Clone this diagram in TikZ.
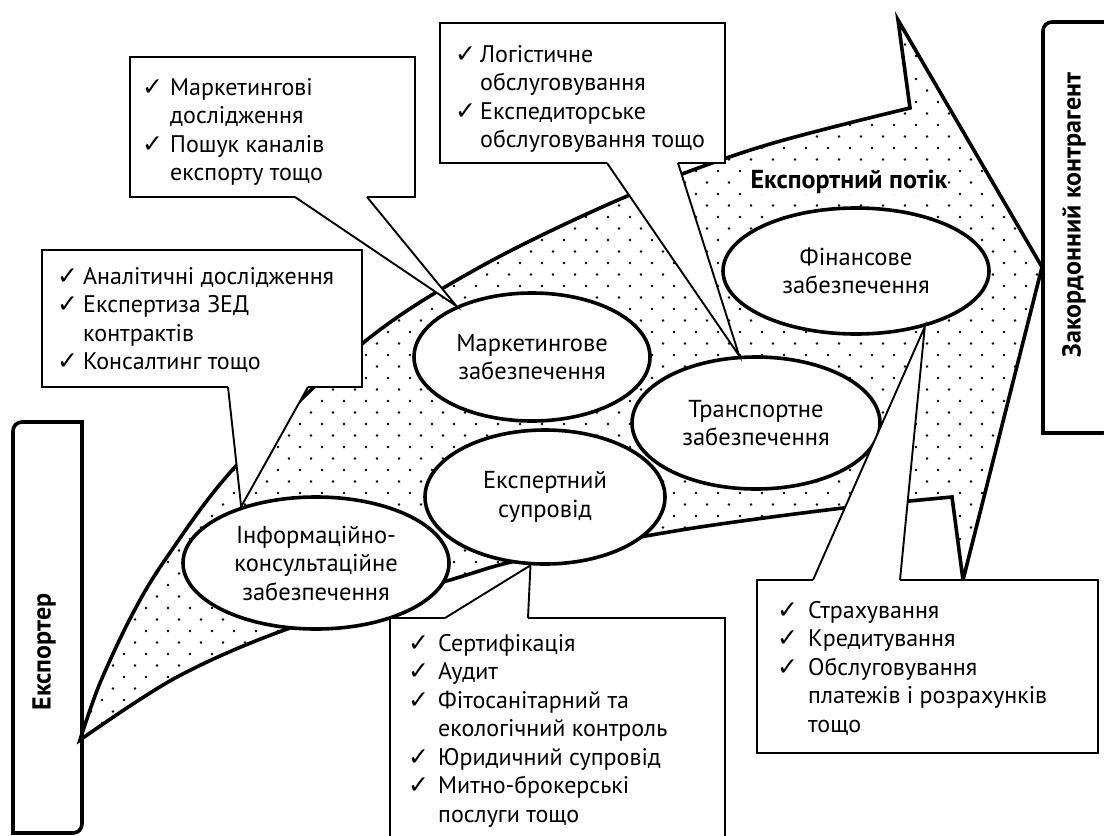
\documentclass[tikz,border=0pt]{standalone}
\usepackage{fontspec}
\setmainfont{PT Sans}
\newfontfamily\symf{DejaVu Sans}
\usetikzlibrary{shapes.geometric}
\newcommand{\ck}{{\fontsize{25}{25}\selectfont\symf ✓}}
\tikzset{
  flowline/.style={line width=3.6pt, line join=miter},
  oval/.style={ellipse, draw, line width=3.6pt, fill=white, inner sep=0pt, align=center,
    font=\fontsize{24.5}{28.5}\selectfont},
  cbox/.style={line width=2.6pt, line join=miter},
  cptr/.style={line width=1.9pt},
  listtxt/.style={anchor=north west, inner sep=0pt, font=\fontsize{24}{28.5}\selectfont},
  sidebox/.style={line width=3.6pt},
  sidetxt/.style={rotate=90, font=\fontsize{26}{30}\selectfont\bfseries},
}
\begin{document}
\begin{tikzpicture}[x=1pt,y=-1pt]
\useasboundingbox (0,0) rectangle (1104,836);
\clip (0,0) rectangle (1104,836);

% ---- export flow arrow: dots ----
\begin{scope}
\clip plot[smooth,tension=0.55] coordinates {(80,740) (100,683) (133,613) (167,557) (235,467) (363,343) (480,267) (625,197) (760,147) (910,108)}
  -- (898,20) -- (1042,267) -- (963,580) -- (952,497)
  -- plot[smooth,tension=0.55] coordinates {(952,497) (843,508) (700,527) (580,548) (507,563) (450,580) (290,628) (177,677) (80,740)} -- cycle;
\foreach \r in {0,...,64} {
  \foreach \c in {0,...,44} {
    \fill ({80+\c*22+mod(\r,2)*11},{10+\r*11.5}) circle (1.35pt);
  }
}
\end{scope}
% ---- export flow arrow: outline ----
\draw[flowline] plot[smooth,tension=0.55] coordinates {(80,740) (100,683) (133,613) (167,557) (235,467) (363,343) (480,267) (625,197) (760,147) (910,108)}
  -- (898,20) -- (1042,267) -- (963,580) -- (952,497)
  -- plot[smooth,tension=0.55] coordinates {(952,497) (843,508) (700,527) (580,548) (507,563) (450,580) (290,628) (177,677) (80,740)} -- cycle;

\node[inner sep=1pt, fill=white, font=\fontsize{26}{30}\selectfont\bfseries] (flow) at (849,182) {Експортний потік};

% ---- ellipses ----
\node[oval, minimum width=266, minimum height=132] (info) at (316,563) {Інформаційно-\\консультаційне\\забезпечення};
\node[oval, minimum width=236, minimum height=128] (mkt) at (532,357) {Маркетингове\\забезпечення};
\node[oval, minimum width=240, minimum height=134] (exp) at (545,497) {Експертний\\супровід};
\node[oval, minimum width=248, minimum height=132] (trn) at (756,423) {Транспортне\\забезпечення};
\node[oval, minimum width=266, minimum height=126] (fin) at (856,271) {Фінансове\\забезпечення};

% ---- callout: info ----
\fill[white] (42,250) -- (362,250) -- (362,387) -- (308,387) -- (info.143) -- (228,387) -- (42,387) -- cycle;
\draw[cbox] (228,387) -- (42,387) -- (42,250) -- (362,250) -- (362,387) -- (308,387);
\draw[cptr] (228,387) -- (info.143) -- (308,387);
\node[listtxt] (tinfo) at (57,264) {\begin{tabular}{@{}p{26pt}@{}l@{}}
\ck & Аналітичні дослідження\\
\ck & Експертиза ЗЕД\\
    & контрактів\\
\ck & Консалтинг тощо
\end{tabular}};

% ---- callout: marketing ----
\fill[white] (130,57) -- (415,57) -- (415,197) -- (367,197) -- (mkt.146) -- (295,197) -- (130,197) -- cycle;
\draw[cbox] (295,197) -- (130,197) -- (130,57) -- (415,57) -- (415,197) -- (367,197);
\draw[cptr] (295,197) -- (mkt.146) -- (367,197);
\node[listtxt] (tmkt) at (142,75) {\begin{tabular}{@{}p{28pt}@{}l@{}}
\ck & Маркетингові\\
    & дослідження\\
\ck & Пошук каналів\\
    & експорту тощо
\end{tabular}};

% ---- callout: logistics ----
\fill[white] (440,23) -- (725,23) -- (725,163) -- (678,163) -- (trn.104) -- (607,163) -- (440,163) -- cycle;
\draw[cbox] (607,163) -- (440,163) -- (440,23) -- (725,23) -- (725,163) -- (678,163);
\draw[cptr] (607,163) -- (trn.104) -- (678,163);
\node[listtxt] (ttrn) at (455,42) {\begin{tabular}{@{}p{25pt}@{}l@{}}
\ck & Логістичне\\
    & обслуговування\\
\ck & Експедиторське\\
    & обслуговування тощо
\end{tabular}};

% ---- callout: expert ----
\fill[white] (390,850) -- (390,618) -- (445,618) -- (exp.258) -- (528,618) -- (725,618) -- (725,850) -- cycle;
\draw[cbox] (390,850) -- (390,618) -- (445,618);
\draw[cbox] (528,618) -- (725,618) -- (725,850);
\draw[cptr] (445,618) -- (exp.258) -- (528,618);
\node[listtxt] (texp) at (408,631) {\begin{tabular}{@{}p{30pt}@{}l@{}}
\ck & Сертифікація\\
\ck & Аудит\\
\ck & Фітосанітарний та\\
    & екологічний контроль\\
\ck & Юридичний супровід\\
\ck & Митно-брокерські\\
    & послуги тощо
\end{tabular}};

% ---- callout: financial ----
\fill[white] (757,580) -- (813,580) -- (fin.321) -- (900,580) -- (1098,580) -- (1098,753) -- (757,753) -- cycle;
\draw[cbox] (813,580) -- (757,580) -- (757,753) -- (1098,753) -- (1098,580) -- (900,580);
\draw[cptr] (813,580) -- (fin.321) -- (900,580);
\node[listtxt] (tfin) at (777,598) {\begin{tabular}{@{}p{31pt}@{}l@{}}
\ck & Страхування\\
\ck & Кредитування\\
\ck & Обслуговування\\
    & платежів і розрахунків\\
    & тощо
\end{tabular}};

% ---- side boxes ----
\draw[sidebox] (13,833) -- (13,431) .. controls (13,426) and (17,422) .. (22,422) -- (82,422)
  -- (82,824) .. controls (82,829) and (78,833) .. (73,833) -- cycle;
\node[sidetxt] (exporter) at (44,652) {Експортер};
\draw[sidebox] (1043,433) -- (1043,31) .. controls (1043,26) and (1047,22) .. (1052,22) -- (1112,22)
  -- (1112,424) .. controls (1112,429) and (1108,433) .. (1103,433) -- cycle;
\node[sidetxt] (partner) at (1074,215) {Закордонний контрагент};
\end{tikzpicture}
\end{document}
